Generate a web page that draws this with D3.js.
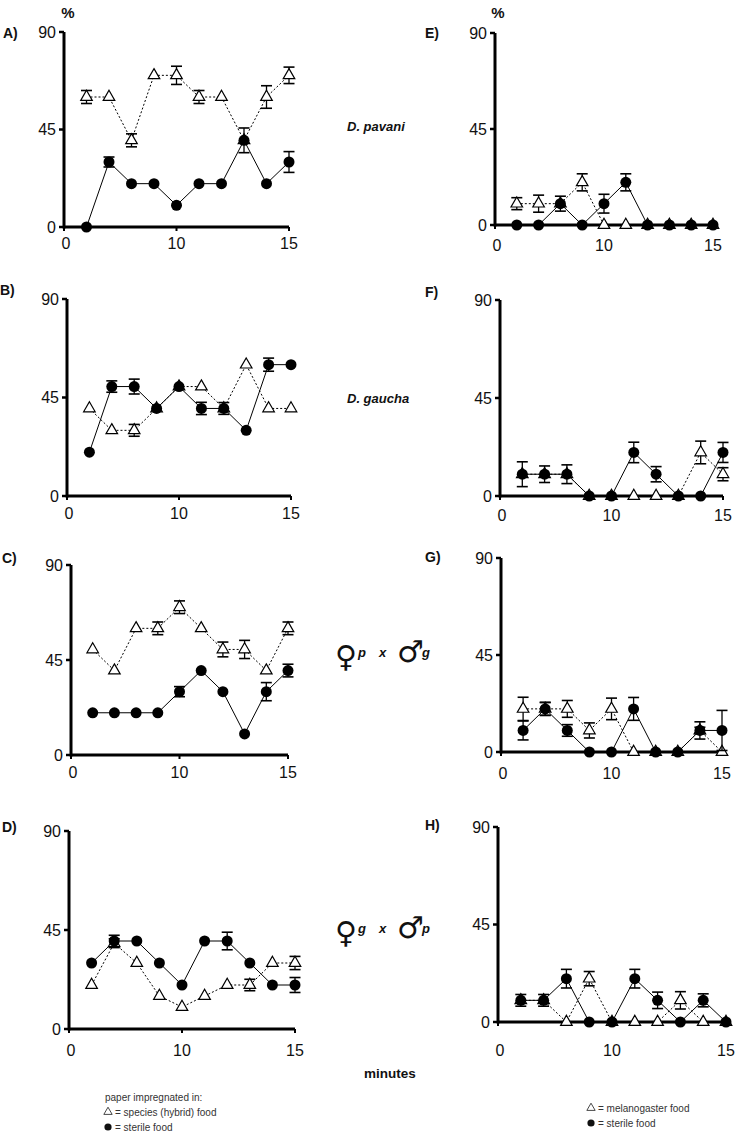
<!DOCTYPE html>
<html>
<head>
<meta charset="utf-8">
<script src="https://cdn.jsdelivr.net/npm/d3@7"></script>
<style>
  body { margin: 0; background: #fff; }
  svg { display: block; }
  text { font-family: "Liberation Sans", Arial, sans-serif; fill: #111; }
</style>
</head>
<body>
<svg id="chart" width="738" height="1132"></svg>
<script>
// ---------- DATA ----------
const timeIndex = [1, 2, 3, 4, 5, 6, 7, 8, 9, 10];
const xTickIndex = [0, 5, 10];
const xTickLabels = ["0", "10", "15"];
const yTicks = [0, 45, 90];

// Panel A (D. pavani, species food)
const triA = [60, 60, 40, 70, 70, 60, 60, 40, 60, 70];
const triAErr = [3, 0, 3, 0, 4.2, 3, 0, 5.7, 5.2, 3.8];
const cirA = [0, 30, 20, 20, 10, 20, 20, 40, 20, 30];
const cirAErr = [0, 2.3, 0, 0, 0, 0, 0, 0, 0, 4.8];
// Panel B (D. gaucha)
const triB = [40, 30, 30, 40, 50, 50, 40, 60, 40, 40];
const triBErr = [0, 0, 2.7, 0, 0, 0, 0, 0, 0, 0];
const cirB = [20, 50, 50, 40, 50, 40, 40, 30, 60, 60];
const cirBErr = [0, 2.6, 3.4, 0, 0, 2.8, 2.7, 0, 3, 0];
// Panel C (female p x male g)
const triC = [50, 40, 60, 60, 70, 60, 50, 50, 40, 60];
const triCErr = [0, 0, 0, 3, 3, 0, 3.5, 4.3, 0, 3];
const cirC = [20, 20, 20, 20, 30, 40, 30, 10, 30, 40];
const cirCErr = [0, 0, 0, 0, 2.4, 0, 0, 0, 4.3, 3];
// Panel D (female g x male p)
const triD = [20, 39, 30, 15, 10, 15, 20, 20, 30, 30];
const triDErr = [0, 2, 0, 0, 0, 0, 0, 2.6, 0, 3];
const cirD = [30, 40, 40, 30, 20, 40, 40, 30, 20, 20];
const cirDErr = [0, 2.6, 0, 0, 0, 0, 4, 0, 0, 3.4];
// Panel E (melanogaster food)
const triE = [10, 10, 10, 20, 0, 0, 0, 0, 0, 0];
const triEErr = [2.8, 4, 0, 4, 0, 0, 0, 0, 0, 0];
const cirE = [0, 0, 10, 0, 10, 20, 0, 0, 0, 0];
const cirEErr = [0, 0, 3.5, 0, 4.4, 4, 0, 0, 0, 0];
// Panel F
const triF = [10, 10, 10, 0, 0, 0, 0, 0, 20, 10];
const triFErr = [0, 0, 0, 0, 0, 0, 0, 0, 5.2, 3];
const cirF = [10, 10, 10, 0, 0, 20, 10, 0, 0, 20];
const cirFErr = [5.7, 3.8, 4.3, 0, 0, 4.7, 3.5, 0, 0, 4.6];
// Panel G
const triG = [20, 20, 20, 10, 20, 0, 0, 0, 10, 0];
const triGErr = [5.4, 3, 3.9, 3.5, 5, 0, 0, 0, 1.5, 0];
const cirG = [10, 20, 10, 0, 0, 20, 0, 0, 10, 10];
const cirGErr = [4.4, 3, 2.7, 0, 0, 5.3, 0, 0, 4, 9.3];
// Panel H
const triH = [10, 10, 0, 20, 0, 0, 0, 10, 0, 0];
const triHErr = [0, 0, 0, 3.3, 0, 0, 0, 4, 0, 0];
const cirH = [10, 10, 20, 0, 0, 20, 10, 0, 10, 0];
const cirHErr = [2.7, 2.7, 4.3, 0, 0, 4.3, 3.8, 0, 3, 0];

const panelLetters = ["A)", "B)", "C)", "D)", "E)", "F)", "G)", "H)"];

// ---------- LAYOUT ----------
const frames = [
  { name: "A)", tri: triA, triErr: triAErr, cir: cirA, cirErr: cirAErr, x0: 64, x1: 289, yT: 32, yB: 227, lx: 3, ly: 38, tly: 243 },
  { name: "B)", tri: triB, triErr: triBErr, cir: cirB, cirErr: cirBErr, x0: 67, x1: 291, yT: 299, yB: 496, lx: 0, ly: 295, tly: 513 },
  { name: "C)", tri: triC, triErr: triCErr, cir: cirC, cirErr: cirCErr, x0: 71, x1: 288, yT: 565, yB: 755, lx: 2, ly: 563, tly: 772 },
  { name: "D)", tri: triD, triErr: triDErr, cir: cirD, cirErr: cirDErr, x0: 69, x1: 295, yT: 831, yB: 1029, lx: 2, ly: 832, tly: 1050 },
  { name: "E)", tri: triE, triErr: triEErr, cir: cirE, cirErr: cirEErr, x0: 495, x1: 713, yT: 33, yB: 225, lx: 425, ly: 38, tly: 245 },
  { name: "F)", tri: triF, triErr: triFErr, cir: cirF, cirErr: cirFErr, x0: 500, x1: 723, yT: 300, yB: 496, lx: 425, ly: 297, tly: 515 },
  { name: "G)", tri: triG, triErr: triGErr, cir: cirG, cirErr: cirGErr, x0: 501, x1: 722, yT: 558, yB: 752, lx: 425, ly: 562, tly: 773 },
  { name: "H)", tri: triH, triErr: triHErr, cir: cirH, cirErr: cirHErr, x0: 498, x1: 726, yT: 827, yB: 1022, lx: 425, ly: 830, tly: 1050 }
];

const svg = d3.select("#chart");

frames.forEach(f => {
  const x = d3.scaleLinear().domain([0, 10]).range([f.x0, f.x1]);
  const y = d3.scaleLinear().domain([0, 90]).range([f.yB, f.yT]);
  const g = svg.append("g");

  // panel letter
  g.append("text").attr("x", f.lx).attr("y", f.ly)
    .attr("font-size", 14).attr("font-weight", "bold").text(f.name);

  // y axis
  g.append("line").attr("x1", f.x0).attr("x2", f.x0).attr("y1", f.yT).attr("y2", f.yB + 1.5)
    .attr("stroke", "#000").attr("stroke-width", 3);
  yTicks.forEach(t => {
    g.append("line").attr("x1", f.x0 - 5).attr("x2", f.x0).attr("y1", y(t)).attr("y2", y(t))
      .attr("stroke", "#000").attr("stroke-width", 2.5);
    g.append("text").attr("x", f.x0 - 8).attr("y", y(t)).attr("dy", "0.36em")
      .attr("text-anchor", "end").attr("font-size", 16).text(t);
  });
  // x axis
  g.append("line").attr("x1", f.x0).attr("x2", f.x1).attr("y1", f.yB).attr("y2", f.yB)
    .attr("stroke", "#000").attr("stroke-width", 3);
  xTickIndex.forEach((t, i) => {
    g.append("line").attr("x1", x(t)).attr("x2", x(t)).attr("y1", f.yB).attr("y2", f.yB + 4)
      .attr("stroke", "#000").attr("stroke-width", 2);
    g.append("text").attr("x", x(t) + (i === 0 ? 2 : 0)).attr("y", f.tly).attr("dy", "0.36em")
      .attr("text-anchor", "middle").attr("font-size", 16).text(xTickLabels[i]);
  });

  const line = d3.line().x((d, i) => x(timeIndex[i])).y(d => y(d));

  // triangle series (dashed)
  g.append("path").datum(f.tri).attr("d", line).attr("fill", "none")
    .attr("stroke", "#000").attr("stroke-width", 1).attr("stroke-dasharray", "2,2");
  // circle series (solid)
  g.append("path").datum(f.cir).attr("d", line).attr("fill", "none")
    .attr("stroke", "#000").attr("stroke-width", 1);

  function errBars(vals, errs) {
    vals.forEach((v, i) => {
      const e = errs[i];
      if (!e) return;
      const cx = x(timeIndex[i]);
      const hw = 5.5;
      g.append("line").attr("x1", cx).attr("x2", cx).attr("y1", y(v - e)).attr("y2", y(v + e))
        .attr("stroke", "#000").attr("stroke-width", 1.3);
      [v - e, v + e].forEach(w => {
        g.append("line").attr("x1", cx - hw).attr("x2", cx + hw).attr("y1", y(w)).attr("y2", y(w))
          .attr("stroke", "#000").attr("stroke-width", 1.6);
      });
    });
  }

  errBars(f.tri, f.triErr);
  const triSym = d3.symbol().type(d3.symbolTriangle).size(58);
  g.selectAll(null).data(f.tri).join("path")
    .attr("d", triSym)
    .attr("transform", (d, i) => `translate(${x(timeIndex[i])},${y(d)})`)
    .attr("fill", "#fff").attr("stroke", "#000").attr("stroke-width", 1.2);

  errBars(f.cir, f.cirErr);
  g.selectAll(null).data(f.cir).join("circle")
    .attr("cx", (d, i) => x(timeIndex[i])).attr("cy", d => y(d)).attr("r", 5.5)
    .attr("fill", "#000");
});

// "%" labels
svg.append("text").attr("x", 68).attr("y", 18).attr("text-anchor", "middle")
  .attr("font-size", 15).attr("font-weight", "bold").text("%");
svg.append("text").attr("x", 498).attr("y", 18).attr("text-anchor", "middle")
  .attr("font-size", 15).attr("font-weight", "bold").text("%");

// species labels
svg.append("text").attr("x", 347).attr("y", 131).attr("font-size", 13)
  .attr("font-weight", "bold").attr("font-style", "italic").text("D. pavani");
svg.append("text").attr("x", 347).attr("y", 403).attr("font-size", 13)
  .attr("font-weight", "bold").attr("font-style", "italic").text("D. gaucha");

// cross labels
function cross(yb, fem, mal) {
  const g = svg.append("g");
  g.append("text").attr("x", 335).attr("y", yb + 10).attr("font-size", 30)
    .style("font-family", "DejaVu Sans").text("♀");
  g.append("text").attr("x", 358).attr("y", yb).attr("font-size", 13)
    .attr("font-weight", "bold").attr("font-style", "italic").text(fem);
  g.append("text").attr("x", 379).attr("y", yb).attr("font-size", 13)
    .attr("font-weight", "bold").attr("font-style", "italic").text("x");
  g.append("text").attr("x", 397).attr("y", yb + 5).attr("font-size", 30)
    .style("font-family", "DejaVu Sans").text("♂");
  g.append("text").attr("x", 422).attr("y", yb).attr("font-size", 13)
    .attr("font-weight", "bold").attr("font-style", "italic").text(mal);
}
cross(657, "p", "g");
cross(933, "g", "p");

// minutes
svg.append("text").attr("x", 390).attr("y", 1078).attr("text-anchor", "middle")
  .attr("font-size", 13.5).attr("font-weight", "bold").text("minutes");

// legends
function legendRow(lx, ly, kind, label) {
  if (kind === "tri") {
    svg.append("path").attr("d", d3.symbol().type(d3.symbolTriangle).size(30)())
      .attr("transform", `translate(${lx + 4},${ly})`)
      .attr("fill", "#fff").attr("stroke", "#333").attr("stroke-width", 0.9);
  } else {
    svg.append("circle").attr("cx", lx + 4).attr("cy", ly).attr("r", 3.6).attr("fill", "#111");
  }
  svg.append("text").attr("x", lx + 11).attr("y", ly).attr("dy", "0.35em")
    .attr("font-size", 10).style("fill", "#333").text(label);
}
svg.append("text").attr("x", 105).attr("y", 1097).attr("dy", "0.35em")
  .attr("font-size", 10).style("fill", "#333").text("paper impregnated in:");
legendRow(104, 1112, "tri", "= species (hybrid) food");
legendRow(104, 1127, "cir", "= sterile food");
legendRow(587, 1108, "tri", "= melanogaster food");
legendRow(587, 1123, "cir", "= sterile food");
</script>
</body>
</html>
